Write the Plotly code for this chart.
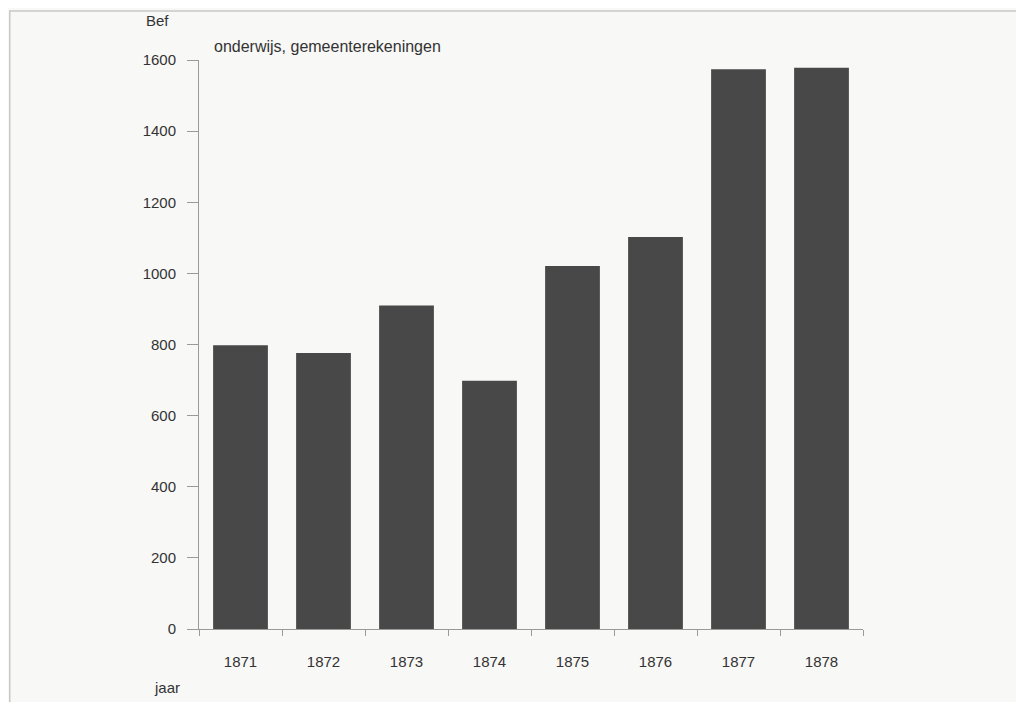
import plotly.graph_objects as go

years = ["1871", "1872", "1873", "1874", "1875", "1876", "1877", "1878"]
values = [798, 776, 910, 698, 1021, 1102, 1574, 1578]
y_ticks = [0, 200, 400, 600, 800, 1000, 1200, 1400, 1600]

bg = "#f8f8f6"
txt = "#333333"
font_family = "Liberation Sans, Arial, sans-serif"
fs = 15

fig = go.Figure(go.Bar(
    x=years, y=values,
    marker=dict(color="#484848", line=dict(width=0)),
    width=0.66,
))

fig.update_layout(
    width=1024, height=702,
    margin=dict(l=191, r=169, t=52, b=81),
    paper_bgcolor=bg, plot_bgcolor=bg,
    font=dict(family=font_family, size=fs, color=txt),
    showlegend=False,
    xaxis=dict(
        type="category", showgrid=False, showline=True, linecolor="#9a9a9a", linewidth=1,
        ticks="outside", ticklen=6, tickcolor="#9a9a9a", tickson="boundaries",
        tickfont=dict(size=fs, color=txt), ticklabelstandoff=19,
        range=[-0.5, 7.5], zeroline=False,
    ),
    yaxis=dict(
        range=[0, 1600], tickvals=y_ticks, showgrid=False, showline=True,
        linecolor="#9a9a9a", linewidth=1, ticks="outside", ticklen=11, tickcolor="#9a9a9a",
        tickfont=dict(size=fs, color=txt), zeroline=False, ticklabelstandoff=8,
    ),
    annotations=[
        dict(text="Bef", xref="paper", yref="paper", x=-0.083, y=1.07,
             xanchor="left", yanchor="middle", showarrow=False, font=dict(size=fs, color=txt)),
        dict(text="onderwijs, gemeenterekeningen", xref="paper", yref="paper", x=0.02, y=1.023,
             xanchor="left", yanchor="middle", showarrow=False, font=dict(size=16, color=txt)),
        dict(text="jaar", xref="paper", yref="paper", x=-0.071, y=-0.103,
             xanchor="left", yanchor="middle", showarrow=False, font=dict(size=fs, color=txt)),
    ],
    shapes=[
        dict(type="rect", xref="paper", yref="paper", x0=-0.285, x1=1.235, y0=-0.2, y1=1.086,
             line=dict(color="#c8c8c8", width=1.5), fillcolor="rgba(0,0,0,0)", layer="below"),
    ],
)

fig.write_html("out.html")
